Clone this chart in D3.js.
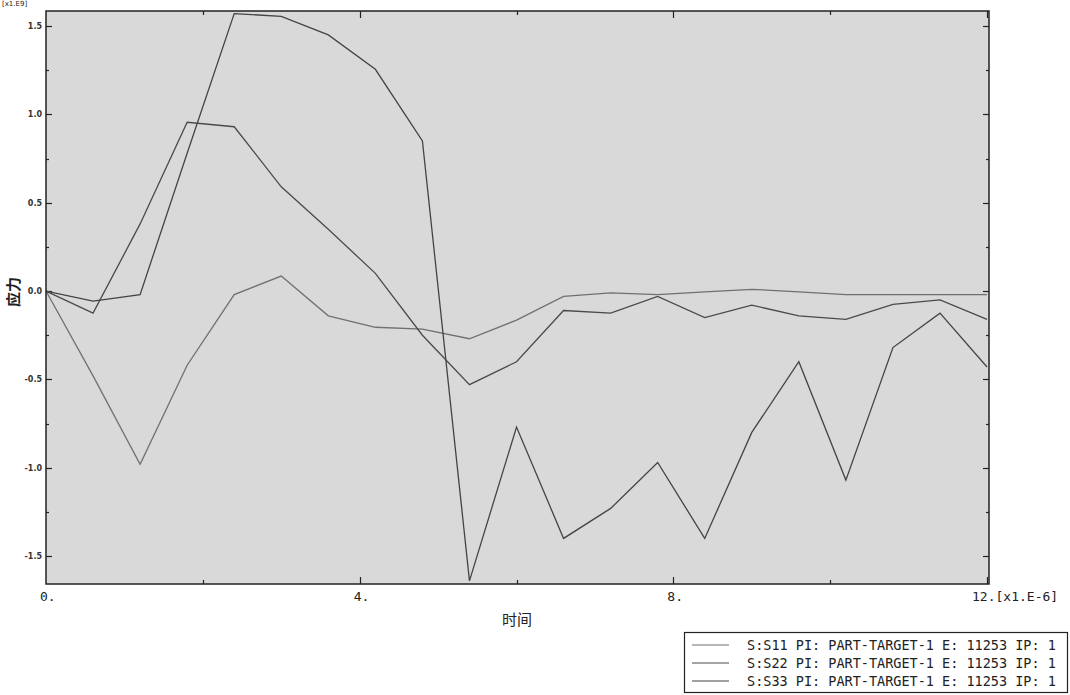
<!DOCTYPE html>
<html>
<head>
<meta charset="utf-8">
<script src="https://cdn.jsdelivr.net/npm/d3@7"></script>
<style>
  body { margin: 0; background: #fff; }
  svg { display: block; }
</style>
</head>
<body>
<script>
// time points, x1.E-6
var times = [0, 0.6, 1.2, 1.8, 2.4, 3.0, 3.6, 4.2, 4.8, 5.4, 6.0, 6.6, 7.2, 7.8, 8.4, 9.0, 9.6, 10.2, 10.8, 11.4, 12.0];

// stress, x1.E9
var s11 = [0, -0.48, -0.98, -0.42, -0.02, 0.085, -0.14, -0.205, -0.215, -0.27, -0.165, -0.03, -0.01, -0.02, -0.005, 0.01, -0.005, -0.02, -0.02, -0.02, -0.02];
var s22 = [0, -0.125, 0.38, 0.955, 0.93, 0.59, 0.35, 0.10, -0.25, -0.53, -0.40, -0.11, -0.125, -0.03, -0.15, -0.08, -0.14, -0.16, -0.075, -0.05, -0.16];
var s33 = [0, -0.057, -0.02, 0.78, 1.57, 1.555, 1.45, 1.255, 0.85, -1.64, -0.77, -1.40, -1.23, -0.97, -1.40, -0.80, -0.40, -1.07, -0.32, -0.125, -0.43];

var seriesNames = ["S:S11 PI: PART-TARGET-1 E: 11253 IP: 1",
                   "S:S22 PI: PART-TARGET-1 E: 11253 IP: 1",
                   "S:S33 PI: PART-TARGET-1 E: 11253 IP: 1"];
var seriesColors = ["#707070", "#4a4a4a", "#444444"];

var xMajor = [0, 4, 8, 12];
var xMinor = [2, 6, 10];
var yMajor = [-1.5, -1.0, -0.5, 0.0, 0.5, 1.0, 1.5];
var yMinor = [-1.25, -0.75, -0.25, 0.25, 0.75, 1.25];

var width = 1070, height = 695;
var plot = {left: 46, right: 989, top: 11, bottom: 584};

var svg = d3.select("body").append("svg")
  .attr("width", width)
  .attr("height", height);

var xScale = d3.scaleLinear().domain([0, 12.025]).range([plot.left, plot.right]);
var yScale = d3.scaleLinear().domain([-1.658, 1.585]).range([plot.bottom, plot.top]);

// plot background
svg.append("rect")
  .attr("x", plot.left).attr("y", plot.top)
  .attr("width", plot.right - plot.left).attr("height", plot.bottom - plot.top)
  .attr("fill", "#d9d9d9");

// ticks pointing inward on all four sides
var tickG = svg.append("g").attr("stroke", "#222").attr("stroke-width", 1.2);
function hTicks(vals, len) {
  vals.forEach(function(v) {
    var y = Math.round(yScale(v)) + 0.5;
    tickG.append("line").attr("x1", plot.left).attr("x2", plot.left + len).attr("y1", y).attr("y2", y);
    tickG.append("line").attr("x1", plot.right).attr("x2", plot.right - len).attr("y1", y).attr("y2", y);
  });
}
function vTicks(vals, len) {
  vals.forEach(function(v) {
    var x = Math.round(xScale(v)) + 0.5;
    tickG.append("line").attr("y1", plot.bottom).attr("y2", plot.bottom - len).attr("x1", x).attr("x2", x);
    tickG.append("line").attr("y1", plot.top).attr("y2", plot.top + len).attr("x1", x).attr("x2", x);
  });
}
hTicks(yMajor, 6);
hTicks(yMinor, 3);
vTicks(xMajor.slice(1), 7);
vTicks(xMinor, 4);

// series lines
var line = d3.line()
  .x(function(d) { return xScale(d.t); })
  .y(function(d) { return yScale(d.v); });

[s11, s22, s33].forEach(function(vals, i) {
  var pts = times.map(function(t, j) { return {t: t, v: vals[j]}; });
  svg.append("path")
    .datum(pts)
    .attr("d", line)
    .attr("fill", "none")
    .attr("stroke", seriesColors[i])
    .attr("stroke-width", 1.3);
});

// frame
svg.append("rect")
  .attr("x", plot.left).attr("y", plot.top)
  .attr("width", plot.right - plot.left).attr("height", plot.bottom - plot.top)
  .attr("fill", "none")
  .attr("stroke", "#222")
  .attr("stroke-width", 1.5);

// y tick labels
svg.append("g").selectAll("text")
  .data(yMajor)
  .enter().append("text")
  .attr("x", 42)
  .attr("y", function(d) { return yScale(d) + 3; })
  .attr("text-anchor", "end")
  .style("font-family", "DejaVu Sans, sans-serif")
  .style("font-size", "8px")
  .style("font-weight", "bold")
  .attr("fill", "#333")
  .text(function(d) { return d.toFixed(1); });

svg.append("text")
  .attr("x", 2).attr("y", 6)
  .style("font-family", "DejaVu Sans, sans-serif")
  .style("font-size", "7px")
  .attr("fill", "#222")
  .text("[x1.E9]");

// x tick labels
svg.append("g").selectAll("text")
  .data(xMajor)
  .enter().append("text")
  .attr("x", function(d) { return xScale(d) - (d < 10 ? 6 : 15); })
  .attr("y", 601)
  .style("font-family", "DejaVu Sans Mono, monospace")
  .style("font-size", "13px")
  .attr("fill", "#222")
  .text(function(d) { return d === 12 ? "12.[x1.E-6]" : d + "."; });

// axis titles
svg.append("text")
  .attr("x", 517).attr("y", 625)
  .attr("text-anchor", "middle")
  .style("font-family", "Noto Sans CJK SC, sans-serif")
  .style("font-size", "15px")
  .attr("fill", "#222")
  .text("时间");

svg.append("text")
  .attr("transform", "translate(19,292) rotate(-90)")
  .attr("text-anchor", "middle")
  .style("font-family", "Noto Sans CJK SC, sans-serif")
  .style("font-size", "15px")
  .style("font-weight", "bold")
  .attr("fill", "#222")
  .text("应力");

// legend
var legend = svg.append("g");
legend.append("rect")
  .attr("x", 684.5).attr("y", 632.5)
  .attr("width", 383).attr("height", 60)
  .attr("fill", "#fff")
  .attr("stroke", "#222")
  .attr("stroke-width", 1.2);

seriesNames.forEach(function(name, i) {
  var y = 645 + i * 18;
  legend.append("line")
    .attr("x1", 692).attr("x2", 729)
    .attr("y1", y).attr("y2", y)
    .attr("stroke", seriesColors[i])
    .attr("stroke-width", 1.2);
  legend.append("text")
    .attr("x", 747).attr("y", y + 5)
    .style("font-family", "DejaVu Sans Mono, monospace")
    .style("font-size", "13.5px")
    .attr("fill", "#222")
    .text(name);
});
</script>
</body>
</html>
